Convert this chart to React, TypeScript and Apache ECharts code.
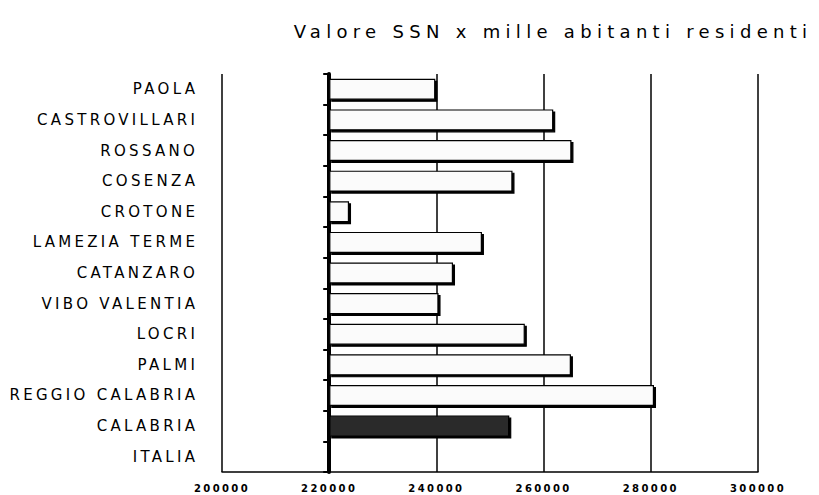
import React, { useEffect, useRef } from "react";
import * as echarts from "echarts";

const titleText = "Valore SSN x mille abitanti residenti";
const categories = [
  "PAOLA",
  "CASTROVILLARI",
  "ROSSANO",
  "COSENZA",
  "CROTONE",
  "LAMEZIA TERME",
  "CATANZARO",
  "VIBO VALENTIA",
  "LOCRI",
  "PALMI",
  "REGGIO CALABRIA",
  "CALABRIA",
  "ITALIA",
];
const values: (number | null)[] = [
  239800, 261800, 265200, 254200, 223700, 248500, 243100, 240400, 256500,
  265100, 280600, 253600, null,
];
const highlighted = "CALABRIA";
const axisCross = 220000;
const xMin = 200000;
const xMax = 300000;
const xStep = 20000;

export default function App() {
  const ref = useRef<HTMLDivElement>(null);
  useEffect(() => {
    if (!ref.current) return;
    const chart = echarts.init(ref.current, undefined, { renderer: "svg" });
    const font = "DejaVu Sans";
    const base = values.map((v) => (v == null ? null : axisCross));
    const diff = values.map((v, i) =>
      v == null
        ? null
        : {
            value: v - axisCross,
            itemStyle:
              categories[i] === highlighted
                ? { color: "#2a2a2a", borderColor: "#000" }
                : undefined,
          }
    );
    chart.setOption({
      animation: false,
      graphic: [
        {
          type: "text",
          x: 553,
          y: 31,
          style: {
            text: titleText,
            fontFamily: font,
            fontSize: 18,
            fill: "#000",
            align: "center",
            verticalAlign: "middle",
          },
        },
      ],
      grid: { left: 222, right: 61, top: 74, bottom: 23, containLabel: false },
      xAxis: {
        type: "value",
        min: xMin,
        max: xMax,
        interval: xStep,
        axisLine: { show: true, lineStyle: { color: "#000", width: 1.5 } },
        axisTick: { show: false },
        splitLine: { show: true, lineStyle: { color: "#000", width: 1.5 } },
        axisLabel: {
          color: "#000",
          fontFamily: font,
          fontSize: 10,
          fontWeight: "bold",
          margin: 11,
          formatter: (v: number) => String(v),
        },
      },
      yAxis: {
        type: "category",
        data: categories,
        inverse: true,
        offset: -107.2,
        axisLine: { show: true, lineStyle: { color: "#000", width: 4 } },
        axisTick: { show: true, length: 6, lineStyle: { color: "#000", width: 2 } },
        axisLabel: {
          color: "#000",
          fontFamily: font,
          fontSize: 15,
          margin: 131,
        },
        splitLine: { show: false },
      },
      series: [
        {
          type: "bar",
          stack: "s",
          data: base,
          silent: true,
          barWidth: 21,
          itemStyle: { color: "rgba(0,0,0,0)" },
        },
        {
          type: "bar",
          stack: "s",
          data: diff,
          barWidth: 21,
          itemStyle: {
            color: "#fbfbfb",
            borderColor: "#000",
            borderWidth: 1.2,
            shadowColor: "#000",
            shadowBlur: 0,
            shadowOffsetX: 2,
            shadowOffsetY: 2,
          },
        },
      ],
    });
    return () => chart.dispose();
  }, []);
  return (
    <>
      <style>{`
        svg text[style*="15px"] { letter-spacing: 3.3px; }
        svg text[style*="18px"] { letter-spacing: 5.3px; }
        svg text[style*="10px"] { letter-spacing: 2.4px; }
      `}</style>
      <div
        ref={ref}
        style={{ position: "fixed", left: 0, top: 0, width: 819, height: 495, background: "#fff" }}
      />
    </>
  );
}
